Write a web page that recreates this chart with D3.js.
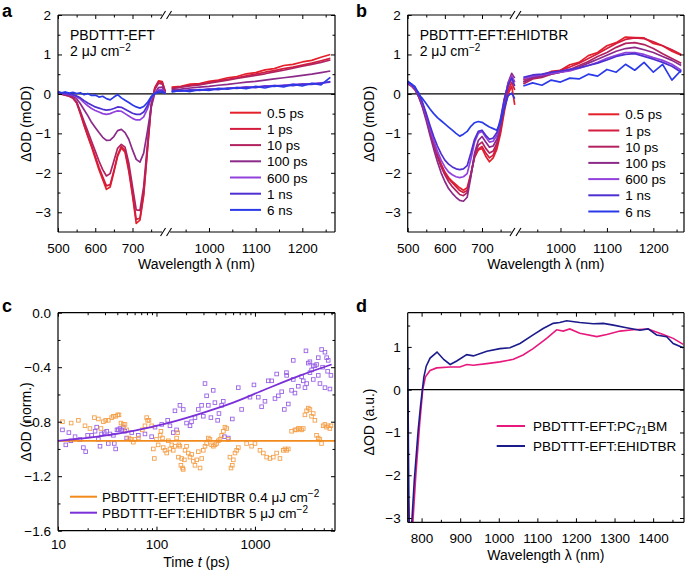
<!DOCTYPE html>
<html>
<head>
<meta charset="utf-8">
<script src="https://cdn.jsdelivr.net/npm/d3@7/dist/d3.min.js"></script>
<style>
  body { margin: 0; background: #fff; }
  text { font-family: "Liberation Sans", Arial, sans-serif; }
</style>
</head>
<body>
<svg id="fig" width="685" height="572"></svg>
<script>
// ---------- data ----------
const delays = ["0.5 ps", "1 ps", "10 ps", "100 ps", "600 ps", "1 ns", "6 ns"];
const delayColors = ["#e5202a", "#d41c3e", "#b1225f", "#8c2a8a", "#9241dc", "#4e2fd2", "#2b3ae8"];

// wavelength grids (nm) for the two halves of the broken axis
const wlLeft = [500,510,520,530,540,550,560,570,580,590,600,610,620,630,640,650,660,670,680,690,700,710,720,730,740,750,760,770,780,788];
const wlRight = [920,940,960,980,1000,1020,1040,1060,1080,1100,1120,1140,1160,1180,1200,1220,1240,1260];

// panel a, PBDTTT-EFT (mOD)
const aL05 = [0.03,0.01,-0.02,-0.04,-0.09,-0.21,-0.48,-0.80,-1.08,-1.34,-1.63,-1.92,-2.17,-2.42,-2.36,-1.98,-1.58,-1.37,-1.48,-1.96,-2.58,-3.28,-3.20,-2.58,-1.45,-0.33,0.16,0.33,0.31,0.06];
const aL1 = [0.02,-0.01,-0.03,-0.06,-0.11,-0.23,-0.50,-0.78,-1.05,-1.31,-1.58,-1.86,-2.10,-2.33,-2.30,-1.95,-1.55,-1.33,-1.43,-1.90,-2.52,-3.18,-3.15,-2.52,-1.40,-0.30,0.15,0.31,0.29,0.05];
const aL10 = [0.02,0.00,-0.03,-0.05,-0.10,-0.20,-0.44,-0.70,-0.95,-1.20,-1.45,-1.70,-1.92,-2.08,-2.02,-1.70,-1.38,-1.28,-1.35,-1.75,-2.35,-2.94,-2.95,-2.35,-1.30,-0.28,0.12,0.27,0.25,0.04];
const aL100 = [0.01,0.00,-0.02,-0.03,-0.06,-0.12,-0.25,-0.40,-0.55,-0.72,-0.85,-0.98,-1.10,-1.18,-1.17,-1.08,-0.93,-0.90,-0.98,-1.15,-1.42,-1.66,-1.73,-1.50,-0.95,-0.35,0.02,0.16,0.17,0.02];
const aL600 = [0.03,0.02,0.00,-0.01,-0.03,-0.07,-0.13,-0.22,-0.30,-0.37,-0.42,-0.46,-0.50,-0.52,-0.50,-0.46,-0.43,-0.44,-0.50,-0.56,-0.62,-0.66,-0.66,-0.58,-0.38,-0.12,0.03,0.10,0.11,0.02];
const aL1n = [0.04,0.02,0.01,0.00,-0.02,-0.05,-0.10,-0.17,-0.23,-0.28,-0.33,-0.36,-0.39,-0.41,-0.40,-0.37,-0.33,-0.34,-0.39,-0.44,-0.49,-0.52,-0.52,-0.46,-0.30,-0.09,0.02,0.07,0.08,0.01];
const aL6n = [0.06,0.03,0.05,0.02,0.04,0.01,0.03,-0.02,0.01,-0.04,-0.03,-0.08,-0.06,-0.12,-0.15,-0.08,-0.02,-0.10,-0.16,-0.22,-0.28,-0.33,-0.36,-0.32,-0.22,-0.07,0.01,0.04,0.05,0.00];
const aR05 = [0.17,0.19,0.25,0.26,0.32,0.35,0.41,0.44,0.51,0.54,0.61,0.64,0.72,0.75,0.81,0.85,0.93,1.00];
const aR1 = [0.15,0.18,0.22,0.25,0.29,0.33,0.37,0.41,0.46,0.50,0.55,0.59,0.64,0.68,0.73,0.78,0.84,0.90];
const aR10 = [0.13,0.17,0.20,0.23,0.27,0.31,0.35,0.39,0.43,0.47,0.51,0.56,0.60,0.65,0.70,0.75,0.80,0.86];
const aR100 = [0.10,0.12,0.15,0.17,0.19,0.22,0.24,0.27,0.30,0.32,0.35,0.38,0.41,0.44,0.47,0.50,0.54,0.58];
const aR600 = [0.06,0.08,0.09,0.10,0.12,0.13,0.14,0.16,0.17,0.18,0.20,0.21,0.22,0.24,0.25,0.26,0.28,0.30];
const aR1n = [0.08,0.07,0.10,0.09,0.12,0.11,0.15,0.14,0.17,0.16,0.20,0.19,0.22,0.21,0.25,0.24,0.27,0.31];
const aR6n = [0.05,0.09,0.06,0.11,0.09,0.14,0.12,0.16,0.13,0.19,0.15,0.21,0.18,0.24,0.20,0.27,0.23,0.42];

// panel b, PBDTTT-EFT:EHIDTBR (mOD)
const bL05 = [0.30,0.22,0.12,-0.05,-0.30,-0.60,-0.92,-1.22,-1.52,-1.78,-1.98,-2.12,-2.22,-2.30,-2.38,-2.44,-2.38,-2.02,-1.60,-1.42,-1.38,-1.58,-1.72,-1.62,-1.40,-1.00,-0.45,0.00,0.20,-0.28];
const bL1 = [0.28,0.20,0.10,-0.08,-0.32,-0.62,-0.95,-1.25,-1.55,-1.80,-2.00,-2.15,-2.25,-2.35,-2.45,-2.50,-2.45,-2.05,-1.60,-1.40,-1.33,-1.50,-1.62,-1.55,-1.32,-0.92,-0.38,0.08,0.30,0.10];
const bL10 = [0.28,0.22,0.12,-0.05,-0.30,-0.62,-0.98,-1.30,-1.60,-1.85,-2.05,-2.22,-2.35,-2.45,-2.55,-2.58,-2.50,-2.05,-1.55,-1.30,-1.22,-1.38,-1.50,-1.45,-1.25,-0.85,-0.30,0.18,0.42,0.30];
const bL100 = [0.25,0.20,0.10,-0.08,-0.35,-0.68,-1.05,-1.40,-1.72,-2.00,-2.22,-2.40,-2.52,-2.62,-2.70,-2.72,-2.62,-2.10,-1.50,-1.18,-1.08,-1.22,-1.35,-1.32,-1.15,-0.75,-0.20,0.28,0.52,0.40];
const bL600 = [0.28,0.22,0.14,0.00,-0.25,-0.55,-0.88,-1.18,-1.45,-1.68,-1.85,-1.98,-2.05,-2.10,-2.12,-2.10,-2.02,-1.65,-1.22,-1.00,-0.95,-1.10,-1.22,-1.20,-1.05,-0.68,-0.15,0.25,0.45,0.30];
const bL1n = [0.30,0.25,0.15,0.02,-0.22,-0.50,-0.80,-1.08,-1.32,-1.52,-1.68,-1.78,-1.85,-1.90,-1.92,-1.90,-1.82,-1.50,-1.15,-0.95,-0.92,-1.05,-1.15,-1.12,-0.98,-0.62,-0.12,0.22,0.40,0.20];
const bL6n = [0.32,0.25,0.18,-0.02,-0.12,-0.25,-0.38,-0.50,-0.60,-0.68,-0.76,-0.84,-0.92,-1.00,-1.07,-1.02,-0.95,-0.82,-0.73,-0.70,-0.72,-0.78,-0.84,-0.88,-0.92,-0.72,-0.35,-0.05,0.02,-0.12];
const bR05 = [0.35,0.45,0.48,0.57,0.60,0.74,0.80,0.97,1.05,1.22,1.30,1.44,1.43,1.42,1.28,1.22,1.08,0.98];
const bR1 = [0.30,0.40,0.45,0.52,0.60,0.68,0.78,0.90,1.02,1.15,1.28,1.38,1.42,1.40,1.32,1.22,1.12,1.00];
const bR10 = [0.25,0.38,0.42,0.50,0.55,0.62,0.72,0.82,0.95,1.05,1.18,1.28,1.30,1.25,1.15,1.02,0.90,0.78];
const bR100 = [0.30,0.42,0.45,0.50,0.55,0.60,0.68,0.78,0.88,0.98,1.08,1.15,1.18,1.12,1.05,0.95,0.85,0.72];
const bR600 = [0.38,0.45,0.48,0.52,0.55,0.58,0.65,0.72,0.80,0.90,0.98,1.05,1.05,1.00,0.92,0.85,0.75,0.60];
const bR1n = [0.42,0.48,0.50,0.55,0.58,0.62,0.66,0.72,0.78,0.86,0.95,1.00,1.02,0.95,0.88,0.80,0.70,0.55];
const bR6n = [0.20,0.28,0.22,0.35,0.30,0.40,0.38,0.50,0.45,0.62,0.55,0.75,0.60,0.80,0.55,0.75,0.35,0.60];

// panel c, kinetics (normalised)
const orangeT = [11.1,13.6,16.1,18.8,21.1,23.4,25.7,27.3,28.9,30.5,32.4,35.1,36.5,38.5,40.4,41.6,43.6,46.0,47.9,49.8,52.6,55.1,58.2,60.5,65.5,71.8,76.4,79.5,81.3,83.9,89.3,92.9,95.1,100,104,109,111,115,117,122,127,132,137,143,148,154,160,164,167,169,173,177,180,184,187,192,195,202,210,219,228,237,246,256,266,277,288,299,311,323,336,349,363,378,393,408,425,442,459,478,496,516,536,557,571,589,603,627,652,678,823,925,1000,1124,1216,1314,1420,1535,1660,1795,1941,2017,2097,2180,2356,2547,2648,2753,2862,2976,3094,3217,3344,3476,3614,3757,3906,4060,4221,4388,4562,4742,4930,5125,5328,5539,5758,5913];
const orangeV = [-0.80,-0.81,-0.79,-0.83,-0.85,-0.77,-0.78,-0.85,-0.80,-0.79,-0.79,-0.77,-0.76,-0.76,-0.75,-0.75,-0.81,-0.82,-0.82,-0.86,-0.92,-0.93,-0.95,-0.93,-0.92,-0.86,-0.83,-0.77,-0.79,-0.79,-0.83,-1.00,-1.07,-0.93,-0.97,-0.90,-0.87,-0.92,-0.99,-1.01,-1.03,-0.94,-1.00,-0.97,-1.01,-0.98,-0.92,-0.88,-1.06,-0.97,-0.98,-1.12,-1.07,-1.14,-1.15,-1.08,-1.01,-0.98,-1.03,-1.06,-1.04,-1.09,-1.12,-1.08,-1.02,-1.14,-1.07,-1.01,-0.98,-0.96,-0.92,-0.93,-0.97,-0.98,-0.97,-0.96,-0.94,-0.93,-0.90,-0.87,-0.84,-0.85,-0.93,-1.06,-1.14,-1.12,-1.08,-1.03,-1.01,-0.99,-0.96,-0.98,-0.96,-1.01,-1.03,-1.06,-1.07,-1.06,-1.03,-1.07,-1.01,-1.00,-1.01,-1.00,-0.87,-0.86,-0.86,-0.85,-0.85,-0.86,-0.85,-0.75,-0.72,-0.70,-0.71,-0.76,-0.74,-0.79,-0.90,-0.92,-0.93,-0.96,-0.83,-0.82,-0.84,-0.83,-0.85,-0.83];
const purpleT = [11.1,12.0,12.9,13.5,14.9,16.7,18.1,19.1,20.0,22.0,23.8,24.7,25.7,26.7,27.7,29.5,31.2,32.4,33.7,36.5,37.3,38.5,39.7,41.0,42.6,44.3,46.0,47.9,49.8,56.0,65.4,76.4,89.3,96.6,113,130,137,148,154,160,173,187,202,219,227,246,266,287,299,311,323,336,357,377,392,418,431,459,477,489,536,589,677,732,890,977,1081,1169,1264,1366,1477,1597,1661,1727,1868,1987,2090,2099,2180,2357,2449,2451,2548,2755,2979,3097,3221,3296,3349,3478,3613,3617,3761,3909,3910,4066,4228,4396,4397,4571,4753,4863,5140,5141,5346,5470,5547,5773,5909];
const purpleV = [-0.86,-0.97,-0.88,-0.94,-0.91,-0.93,-0.99,-1.02,-0.90,-0.90,-0.87,-0.84,-0.93,-0.98,-0.89,-0.88,-0.87,-0.96,-0.89,-0.90,-0.96,-1.00,-0.86,-0.86,-0.85,-0.86,-0.84,-0.87,-0.92,-0.88,-0.90,-0.89,-0.91,-0.84,-0.82,-0.79,-0.83,-0.88,-0.72,-0.86,-0.68,-0.71,-0.81,-0.83,-0.80,-0.77,-0.71,-0.68,-0.76,-0.52,-0.61,-0.68,-0.77,-0.57,-0.66,-0.79,-0.74,-0.68,-0.65,-0.91,-0.92,-0.78,-0.55,-0.71,-0.62,-0.53,-0.62,-0.69,-0.65,-0.50,-0.50,-0.63,-0.45,-0.61,-0.58,-0.71,-0.44,-0.46,-0.67,-0.57,-0.35,-0.49,-0.59,-0.54,-0.47,-0.50,-0.55,-0.28,-0.52,-0.37,-0.36,-0.44,-0.42,-0.39,-0.49,-0.39,-0.38,-0.33,-0.46,-0.52,-0.27,-0.40,-0.29,-0.55,-0.33,-0.43,-0.35,-0.56,-0.46];
const fitPurpleT = [10, 25, 60, 130, 280, 600, 1300, 2900, 6000];
const fitPurpleV = [-0.94, -0.91, -0.865, -0.81, -0.74, -0.66, -0.56, -0.46, -0.38];
const fitOrangeT = [10, 6500];
const fitOrangeV = [-0.94, -0.94];

// panel d, spectra at long delay (a.u.)
const dWlPink = [764,767,770,776,785,795,803,810,822,839,874,899,917,934,969,1003,1038,1063,1089,1124,1150,1167,1184,1210,1254,1280,1314,1348,1387,1426,1452,1478];
const dPink = [-2.3,-2.9,-3.4,-3.3,-2.0,-0.8,0.0,0.3,0.45,0.51,0.53,0.53,0.59,0.57,0.61,0.65,0.71,0.81,0.96,1.20,1.40,1.37,1.42,1.32,1.24,1.29,1.37,1.40,1.42,1.29,1.20,1.06];
const dWlBlue = [764,766,768,772,781,791,797,802,806,812,822,840,858,874,891,917,934,969,1003,1029,1055,1089,1115,1141,1158,1176,1210,1245,1271,1297,1331,1366,1387,1409,1435,1452,1478];
const dBlue = [1.0,-1.5,-3.5,-3.5,-2.13,-0.96,-0.4,0.0,0.3,0.55,0.74,0.88,0.7,0.59,0.67,0.82,0.79,0.90,0.96,0.98,1.08,1.28,1.43,1.55,1.57,1.61,1.57,1.54,1.55,1.51,1.45,1.39,1.42,1.28,1.24,1.08,0.98];

// ---------- drawing ----------
const svg = d3.select("#fig");
const FONT = "Liberation Sans, Arial, sans-serif";

// inward ticks, optional labels
function ticks(g, fn, scale, vals, len, tr, fmt, pad) {
  let ax = fn(scale).tickValues(vals).tickSizeInner(-len).tickSizeOuter(0)
    .tickPadding(pad || 7).tickFormat(fmt || (() => ""));
  let a = g.append("g").attr("transform", tr).call(ax);
  a.select(".domain").remove();
  a.selectAll("line").attr("stroke", "#000").attr("stroke-width", 1);
  a.selectAll("text").attr("fill", "#000").attr("font-size", 13.5).attr("font-family", FONT);
  return a;
}

function frame(g, b, gapX) {
  let segs = gapX == null ? [[b.x0, b.x1]] : [[b.x0, gapX - 4], [gapX + 4, b.x1]];
  for (let yy of [b.y0, b.y1]) {
    for (let s of segs) {
      g.append("line").attr("x1", s[0]).attr("x2", s[1]).attr("y1", yy).attr("y2", yy)
        .attr("stroke", "#000").attr("stroke-width", 1.2);
    }
    if (gapX != null) {
      for (let dx of [-3, 3]) {
        g.append("line").attr("x1", gapX + dx - 2.5).attr("y1", yy + 4)
          .attr("x2", gapX + dx + 2.5).attr("y2", yy - 4)
          .attr("stroke", "#000").attr("stroke-width", 1.1);
      }
    }
  }
  for (let xx of [b.x0, b.x1]) {
    g.append("line").attr("x1", xx).attr("x2", xx).attr("y1", b.y0).attr("y2", b.y1)
      .attr("stroke", "#000").attr("stroke-width", 1.2);
  }
}

function label(txt, x, y) {
  svg.append("text").attr("x", x).attr("y", y).attr("font-size", 18).attr("font-weight", "bold").text(txt);
}

function yTitle(x, y, txt) {
  svg.append("text").attr("transform", `translate(${x},${y}) rotate(-90)`)
    .attr("text-anchor", "middle").attr("font-size", 14).text(txt);
}

function xTitle(x, y) {
  svg.append("text").attr("x", x).attr("y", y).attr("text-anchor", "middle")
    .attr("font-size", 14).text("Wavelength λ (nm)");
}

function spectraPanel(box, rDom, left, right, name, leg) {
  let g = svg.append("g");
  let xb = box.x0 + 0.39 * (box.x1 - box.x0);
  let xL = d3.scaleLinear().domain([500, 790]).range([box.x0, xb]);
  let xR = d3.scaleLinear().domain(rDom).range([xb, box.x1]);
  let y = d3.scaleLinear().domain([-3.5, 2]).range([box.y1, box.y0]);

  g.append("line").attr("x1", box.x0).attr("x2", box.x1).attr("y1", y(0)).attr("y2", y(0))
    .attr("stroke", "#000").attr("stroke-width", 1.2);

  let lineL = d3.line().x(d => xL(d[0])).y(d => y(d[1]));
  let lineR = d3.line().x(d => xR(d[0])).y(d => y(d[1]));
  left.forEach((s, i) => {
    g.append("path").attr("d", lineL(d3.zip(wlLeft, s))).attr("fill", "none")
      .attr("stroke", delayColors[i]).attr("stroke-width", 1.7).attr("stroke-linejoin", "round");
  });
  right.forEach((s, i) => {
    g.append("path").attr("d", lineR(d3.zip(wlRight, s))).attr("fill", "none")
      .attr("stroke", delayColors[i]).attr("stroke-width", 1.7).attr("stroke-linejoin", "round");
  });

  // axes
  ticks(g, d3.axisLeft, y, [-3, -2, -1, 0, 1, 2], 4, `translate(${box.x0},0)`, d3.format("d"), 7);
  ticks(g, d3.axisLeft, y, [-2.5, -1.5, -0.5, 0.5, 1.5], 2.5, `translate(${box.x0},0)`);
  ticks(g, d3.axisRight, y, [-3, -2, -1, 0, 1, 2], 4, `translate(${box.x1},0)`);
  ticks(g, d3.axisRight, y, [-2.5, -1.5, -0.5, 0.5, 1.5], 2.5, `translate(${box.x1},0)`);
  ticks(g, d3.axisBottom, xL, [500, 600, 700], 4, `translate(0,${box.y1})`, d3.format("d"), 11.5);
  ticks(g, d3.axisBottom, xR, [1000, 1100, 1200], 4, `translate(0,${box.y1})`, d3.format("d"), 11.5);
  ticks(g, d3.axisBottom, xL, [550, 650, 750], 2.5, `translate(0,${box.y1})`);
  ticks(g, d3.axisBottom, xR, [950, 1050, 1150, 1250], 2.5, `translate(0,${box.y1})`);
  ticks(g, d3.axisTop, xL, [500, 600, 700], 4, `translate(0,${box.y0})`);
  ticks(g, d3.axisTop, xR, [1000, 1100, 1200], 4, `translate(0,${box.y0})`);
  ticks(g, d3.axisTop, xL, [550, 650, 750], 2.5, `translate(0,${box.y0})`);
  ticks(g, d3.axisTop, xR, [950, 1050, 1150, 1250], 2.5, `translate(0,${box.y0})`);
  frame(g, box, xb);

  // sample name and fluence
  g.append("text").attr("x", box.x0 + 12).attr("y", box.y0 + 25).attr("font-size", 14).text(name);
  let f = g.append("text").attr("x", box.x0 + 12).attr("y", box.y0 + 41).attr("font-size", 14);
  f.append("tspan").text("2 μJ cm");
  f.append("tspan").attr("dy", -5).attr("font-size", 10).text("−2");

  // legend
  delays.forEach((n, i) => {
    let yy = leg.y + i * 16.2;
    g.append("line").attr("x1", leg.x).attr("x2", leg.x + 31).attr("y1", yy).attr("y2", yy)
      .attr("stroke", delayColors[i]).attr("stroke-width", 2);
    g.append("text").attr("x", leg.x + 37).attr("y", yy + 5).attr("font-size", 13.5).text(n);
  });

  xTitle((box.x0 + box.x1) / 2, 269);
}

// panel a
const boxA = {x0: 58, x1: 335, y0: 15, y1: 232};
spectraPanel(boxA, [908, 1270],
  [aL05, aL1, aL10, aL100, aL600, aL1n, aL6n],
  [aR05, aR1, aR10, aR100, aR600, aR1n, aR6n],
  "PBDTTT-EFT", {x: 230, y: 112.7});
yTitle(31, 124, "ΔOD (mOD)");
label("a", 2, 17);

// panel b
const boxB = {x0: 407.7, x1: 684, y0: 15, y1: 232};
spectraPanel(boxB, [903, 1266],
  [bL05, bL1, bL10, bL100, bL600, bL1n, bL6n],
  [bR05, bR1, bR10, bR100, bR600, bR1n, bR6n],
  "PBDTTT-EFT:EHIDTBR", {x: 588.3, y: 114.3});
yTitle(374, 124, "ΔOD (mOD)");
label("b", 356, 17);

// panel c
const boxC = {x0: 58, x1: 335, y0: 312.7, y1: 530.7};
{
  let g = svg.append("g");
  let x = d3.scaleLog().domain([10, 6500]).range([boxC.x0, boxC.x1]);
  let y = d3.scaleLinear().domain([-1.6, 0]).range([boxC.y1, boxC.y0]);
  let sq = 3.6;
  g.selectAll(".pp").data(d3.zip(purpleT, purpleV)).enter().append("rect")
    .attr("x", d => x(d[0]) - sq / 2).attr("y", d => y(d[1]) - sq / 2)
    .attr("width", sq).attr("height", sq)
    .attr("fill", "none").attr("stroke", "#9a62e6").attr("stroke-width", 0.9);
  g.selectAll(".op").data(d3.zip(orangeT, orangeV)).enter().append("rect")
    .attr("x", d => x(d[0]) - sq / 2).attr("y", d => y(d[1]) - sq / 2)
    .attr("width", sq).attr("height", sq)
    .attr("fill", "none").attr("stroke", "#f5a04a").attr("stroke-width", 0.9);
  let ln = d3.line().x(d => x(d[0])).y(d => y(d[1])).curve(d3.curveMonotoneX);
  g.append("path").attr("d", ln(d3.zip(fitOrangeT, fitOrangeV))).attr("fill", "none")
    .attr("stroke", "#f28a1c").attr("stroke-width", 1.8);
  g.append("path").attr("d", ln(d3.zip(fitPurpleT, fitPurpleV))).attr("fill", "none")
    .attr("stroke", "#7a2fd8").attr("stroke-width", 1.8);

  ticks(g, d3.axisLeft, y, [-1.6, -1.2, -0.8, -0.4, 0], 4, `translate(${boxC.x0},0)`, d3.format(".1f"), 7);
  ticks(g, d3.axisLeft, y, [-1.4, -1.0, -0.6, -0.2], 2.5, `translate(${boxC.x0},0)`);
  ticks(g, d3.axisRight, y, [-1.6, -1.2, -0.8, -0.4, 0], 4, `translate(${boxC.x1},0)`);
  ticks(g, d3.axisRight, y, [-1.4, -1.0, -0.6, -0.2], 2.5, `translate(${boxC.x1},0)`);
  let minor = [20,30,40,50,60,70,80,90,200,300,400,500,600,700,800,900,2000,3000,4000,5000,6000];
  ticks(g, d3.axisBottom, x, [10, 100, 1000], 4, `translate(0,${boxC.y1})`, d3.format("d"), 9);
  ticks(g, d3.axisBottom, x, minor, 2.5, `translate(0,${boxC.y1})`);
  ticks(g, d3.axisTop, x, [10, 100, 1000], 4, `translate(0,${boxC.y0})`);
  ticks(g, d3.axisTop, x, minor, 2.5, `translate(0,${boxC.y0})`);
  frame(g, boxC);

  let legC = [["0.4", "#f28a1c"], ["5", "#7a2fd8"]];
  legC.forEach((d, i) => {
    let yy = 496.7 + i * 16;
    g.append("line").attr("x1", 70).attr("x2", 97).attr("y1", yy).attr("y2", yy)
      .attr("stroke", d[1]).attr("stroke-width", 2);
    let t = g.append("text").attr("x", 102).attr("y", yy + 5).attr("font-size", 13.5);
    t.append("tspan").text(`PBDTTT-EFT:EHIDTBR ${d[0]} μJ cm`);
    t.append("tspan").attr("dy", -5).attr("font-size", 10).text("−2");
  });

  let tt = svg.append("text").attr("x", (boxC.x0 + boxC.x1) / 2).attr("y", 567)
    .attr("text-anchor", "middle").attr("font-size", 14);
  tt.append("tspan").text("Time ");
  tt.append("tspan").attr("font-style", "italic").text("t");
  tt.append("tspan").text(" (ps)");
  yTitle(31, 422, "ΔOD (norm.)");
  label("c", 2, 312);
}

// panel d
const boxD = {x0: 407.7, x1: 684, y0: 312.7, y1: 522.3};
{
  let g = svg.append("g");
  let x = d3.scaleLinear().domain([764, 1480]).range([boxD.x0, boxD.x1]);
  let y = d3.scaleLinear().domain([-3.1, 1.8]).range([boxD.y1, boxD.y0]);
  svg.append("clipPath").attr("id", "clipD").append("rect")
    .attr("x", boxD.x0).attr("y", boxD.y0).attr("width", boxD.x1 - boxD.x0).attr("height", boxD.y1 - boxD.y0);

  g.append("line").attr("x1", boxD.x0).attr("x2", boxD.x1).attr("y1", y(0)).attr("y2", y(0))
    .attr("stroke", "#000").attr("stroke-width", 1.2);
  let ln = d3.line().x(d => x(d[0])).y(d => y(d[1]));
  g.append("path").attr("d", ln(d3.zip(dWlPink, dPink))).attr("clip-path", "url(#clipD)")
    .attr("fill", "none").attr("stroke", "#e8197d").attr("stroke-width", 1.6);
  g.append("path").attr("d", ln(d3.zip(dWlBlue, dBlue))).attr("clip-path", "url(#clipD)")
    .attr("fill", "none").attr("stroke", "#1b1b8c").attr("stroke-width", 1.6);

  ticks(g, d3.axisLeft, y, [-3, -2, -1, 0, 1], 4, `translate(${boxD.x0},0)`, d3.format("d"), 7);
  ticks(g, d3.axisLeft, y, [-2.5, -1.5, -0.5, 0.5, 1.5], 2.5, `translate(${boxD.x0},0)`);
  ticks(g, d3.axisRight, y, [-3, -2, -1, 0, 1], 4, `translate(${boxD.x1},0)`);
  ticks(g, d3.axisRight, y, [-2.5, -1.5, -0.5, 0.5, 1.5], 2.5, `translate(${boxD.x1},0)`);
  let maj = [800, 900, 1000, 1100, 1200, 1300, 1400];
  let mnr = [850, 950, 1050, 1150, 1250, 1350, 1450];
  ticks(g, d3.axisBottom, x, maj, 4, `translate(0,${boxD.y1})`, d3.format("d"), 11.5);
  ticks(g, d3.axisBottom, x, mnr, 2.5, `translate(0,${boxD.y1})`);
  ticks(g, d3.axisTop, x, maj, 4, `translate(0,${boxD.y0})`);
  ticks(g, d3.axisTop, x, mnr, 2.5, `translate(0,${boxD.y0})`);
  frame(g, boxD);

  let l1 = g.append("g");
  l1.append("line").attr("x1", 496.7).attr("x2", 525).attr("y1", 426).attr("y2", 426)
    .attr("stroke", "#e8197d").attr("stroke-width", 2);
  let t1 = l1.append("text").attr("x", 533).attr("y", 431).attr("font-size", 13.5);
  t1.append("tspan").text("PBDTTT-EFT:PC");
  t1.append("tspan").attr("dy", 3).attr("font-size", 10).text("71");
  t1.append("tspan").attr("dy", -3).text("BM");
  l1.append("line").attr("x1", 496.7).attr("x2", 525).attr("y1", 446).attr("y2", 446)
    .attr("stroke", "#1b1b8c").attr("stroke-width", 2);
  l1.append("text").attr("x", 533).attr("y", 451).attr("font-size", 13.5).text("PBDTTT-EFT:EHIDTBR");

  xTitle((boxD.x0 + boxD.x1) / 2, 560);
  yTitle(374, 422, "ΔOD (a.u.)");
  label("d", 356, 312);
}
</script>
</body>
</html>
